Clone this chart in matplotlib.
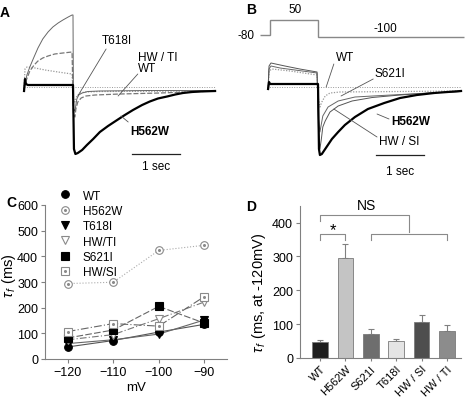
import numpy as np
import matplotlib
matplotlib.use('agg')
from matplotlib import pyplot as plt
from matplotlib.lines import Line2D

plt.rcParams['font.family'] = ['Liberation Sans', 'DejaVu Sans']
plt.rcParams['mathtext.fontset'] = 'custom'
plt.rcParams['mathtext.rm'] = 'Liberation Sans'
plt.rcParams['mathtext.it'] = 'Liberation Sans:italic'

# ---- panel A: tail currents (time in s, current in a.u., 0 = baseline)
a_t618i_t = [-1.02, -1.0, -0.96, -0.90, -0.83, -0.73, -0.63, -0.52, -0.42, -0.31, -0.21, -0.10, -0.02, 0.0,
             0.01, 0.04, 0.06, 0.08, 0.12, 0.19, 0.31, 0.56, 1.6, 2.96]
a_t618i_i = [-2, 3, 12, 20, 28, 39, 48, 55, 60, 64, 67, 70, 72, 72,
             -22, -24, -18, -12, -8, -6, -4.5, -4, -3.5, -3.5]
a_hwti_t = [-1.02, -0.98, -0.90, -0.81, -0.73, -0.63, -0.52, -0.38, -0.21, -0.02,
            0.01, 0.04, 0.06, 0.10, 0.17, 0.27, 0.46, 0.98, 1.81, 2.96]
a_hwti_i = [-2, 6, 16, 22, 26, 29, 31, 33, 34, 35,
            -27, -30, -22, -15, -11, -9, -8, -7, -6, -4]
a_wt_t = [-1.02, -1.0, -0.96, -0.79, -0.58, -0.38, -0.17, -0.02,
          0.01, 0.04, 0.08, 0.15, 0.25, 0.56, 2.96]
a_wt_i = [-2, 18, 20, 19, 17, 15.5, 14, 13,
          -12, -15, -9, -6, -5, -4.5, -4]
a_h562w_t = [-1.02, -1.0, -0.98, -0.94, -0.02, 0.0, 0.02, 0.05, 0.10, 0.19, 0.29, 0.42, 0.56, 0.73,
             0.92, 1.08, 1.25, 1.44, 1.60, 1.77, 1.96, 2.13, 2.29, 2.48, 2.65, 2.96]
a_h562w_i = [-4, 8, 3, 2, 2, 2, -62, -67, -66, -63, -58, -52, -45, -39,
             -33, -28, -23, -18, -14.5, -11.5, -9.5, -7.5, -6, -5, -4.5, -4]

# ---- panel B
b_h562w_t = [-1.04, -1.02, -1.0, 0.0, 0.02, 0.04, 0.08, 0.15, 0.29, 0.42, 0.56, 0.77, 1.04,
             1.38, 1.71, 2.06, 2.42, 2.98]
b_h562w_i = [-2, 5, 3, 3, -62, -68, -67, -62, -52, -45, -38, -30, -22,
             -16, -11, -8, -6, -4]
b_s621i_t = [-1.04, -1.02, -0.98, -0.79, -0.48, -0.17, -0.02, 0.01, 0.04, 0.07, 0.10, 0.21,
             0.42, 0.77, 1.33, 2.13, 2.98]
b_s621i_i = [-2, 18, 21, 19, 17, 15, 14, -32, -45, -37, -29, -20,
             -14, -10, -8.5, -6.5, -4.5]
b_hwsi_t = [-1.04, -1.02, -0.98, -0.69, -0.38, -0.02, 0.01, 0.04, 0.07, 0.10, 0.15, 0.25,
            0.42, 0.71, 1.13, 1.71, 2.33, 2.98]
b_hwsi_i = [-2, 21, 24, 21, 18, 15, -42, -62, -52, -40, -34, -25,
            -19, -14, -10.5, -8, -6, -4.5]
b_wt_t = [-1.04, -1.02, -0.96, -0.58, -0.02, 0.01, 0.04, 0.08, 0.15, 0.25, 0.46, 2.98]
b_wt_i = [-2, 16, 18, 16, 12, -12, -20, -15, -9, -6, -5, -4]

step_edges = [-1.2, -1.0, 0.0, 3.05]
step_mV = [-80, 50, -100]

# ---- panel C: tau_f vs voltage
volts = [-120, -110, -100, -90]
tau_wt = [47, 72, 105, 135]
tau_h562w = [294, 299, 423, 443]
tau_t618i = [60, 75, 97, 152]
tau_hwti = [75, 95, 157, 222]
tau_s621i = [82, 113, 205, 140]
tau_hwsi = [107, 138, 128, 243]

# ---- panel D: tau_f at -120 mV
groups = ['WT', 'H562W', 'S621I', 'T618I', 'HW / SI', 'HW / TI']
tau120 = [47, 295, 71, 50, 107, 80]
tau120_err = [5, 43, 16, 5, 19, 17]
bar_colors = ['#1e1e1e', '#c4c4c4', '#6e6e6e', '#e4e4e4', '#4e4e4e', '#8c8c8c']

W, H = 468, 406
fig = plt.figure(figsize=(W / 100, H / 100), dpi=100)

GRAY = '#808080'
FS = 8.5


def trace_axes(left_px, t0_px):
    ax = fig.add_axes([left_px / W, (H - 180) / H, 234 / W, 180 / H])
    ax.set_xlim((left_px - t0_px) / 48, (left_px + 234 - t0_px) / 48)
    ax.set_ylim(-92, 88)
    ax.axis('off')
    return ax


def leader(ax, xy, xytext):
    ax.annotate('', xy=xy, xytext=xytext,
                arrowprops=dict(arrowstyle='-', color='#555555', lw=0.6, shrinkA=0, shrinkB=0))


# panel A
axA = trace_axes(0, 73)
axA.plot([-1.02, 2.96], [0, 0], ls=(0, (1, 1.5)), color='#999999', lw=0.7)
axA.plot(a_wt_t, a_wt_i, ls=(0, (1, 1.2)), color='#999999', lw=0.9)
axA.plot(a_hwti_t, a_hwti_i, ls=(0, (4, 1.5)), color='#777777', lw=0.9)
axA.plot(a_t618i_t, a_t618i_i, color='#666666', lw=0.7)
axA.plot(a_h562w_t, a_h562w_i, color='black', lw=1.6)
axA.plot([1.23, 2.23], [-67, -67], color='#222222', lw=0.9)
axA.text(1.73, -79, '1 sec', fontsize=FS, ha='center', va='center')
leader(axA, (0.10, -9), (0.69, 38))
axA.text(0.6, 47, 'T618I', fontsize=FS, va='center')
axA.text(1.35, 30, 'HW / TI', fontsize=FS, va='center')
leader(axA, (0.94, -9), (1.35, 13))
axA.text(1.35, 19, 'WT', fontsize=FS, va='center')
leader(axA, (1.0, -29), (1.15, -35))
axA.text(1.19, -44, 'H562W', fontsize=FS, va='center', fontweight='bold')
fig.text(5 / W, 1 - 13 / H, 'A', fontsize=10, fontweight='bold', ha='center', va='center')

# panel B
axB = trace_axes(234, 318)
axB.plot([-1.06, 2.98], [0, 0], ls=(0, (1, 1.5)), color='#999999', lw=0.7)
axB.plot(b_wt_t, b_wt_i, ls=(0, (1, 1.2)), color='#999999', lw=0.9)
axB.plot(b_s621i_t, b_s621i_i, color='#666666', lw=0.7)
axB.plot(b_hwsi_t, b_hwsi_i, color='#555555', lw=0.7)
axB.plot(b_h562w_t, b_h562w_i, color='black', lw=1.6)
axB.plot([1.21, 2.21], [-68, -68], color='#222222', lw=0.9)
axB.text(1.71, -84, '1 sec', fontsize=FS, ha='center', va='center')
for txt, xy, xyt, lx, ly, bold in [
        ('WT', (0.17, 0), (0.33, 23), 0.375, 30, False),
        ('S621I', (0.48, -9), (1.15, 8), 1.17, 14, False),
        ('H562W', (1.23, -27), (1.48, -32), 1.52, -34, True),
        ('HW / SI', (0.33, -22), (1.23, -50), 1.27, -54, False)]:
    leader(axB, xy, xyt)
    axB.text(lx, ly, txt, fontsize=FS, va='center', fontweight='bold' if bold else 'normal')

axP = axB.twinx()
axP.set_ylim(-1328, 232)
axP.axis('off')
axP.stairs(step_mV, step_edges, baseline=None, color='#888888', lw=1.0)
axP.text(-1.33, -80, '-80', fontsize=FS, ha='right', va='center')
axP.text(-0.48, 145, '50', fontsize=FS, ha='center', va='center')
axP.text(1.40, -19, '-100', fontsize=FS, ha='center', va='center')
fig.text(251 / W, 1 - 10 / H, 'B', fontsize=10, fontweight='bold', ha='center', va='center')


def style_axes(ax):
    for side in ('top', 'right'):
        ax.spines[side].set_visible(False)
    for side in ('left', 'bottom'):
        ax.spines[side].set_color(GRAY)
        ax.spines[side].set_linewidth(0.8)
    ax.tick_params(direction='out', length=3, width=0.8, color=GRAY, labelsize=9, pad=2)


# panel C
axC = fig.add_axes([45 / W, 46 / H, 182 / W, 154 / H])
style_axes(axC)
series = [
    ('WT', tau_wt, dict(marker='o', mfc='black', mec='black'), '-', '#555555'),
    ('H562W', tau_h562w, dict(marker='o', mfc='white', mec='#8a8a8a'), ':', '#aaaaaa'),
    ('T618I', tau_t618i, dict(marker='v', mfc='black', mec='black'), '-', '#666666'),
    ('HW/TI', tau_hwti, dict(marker='v', mfc='white', mec='#8a8a8a'), (0, (6, 2, 1, 2)), '#777777'),
    ('S621I', tau_s621i, dict(marker='s', mfc='black', mec='black'), (0, (6, 2)), '#666666'),
    ('HW/SI', tau_hwsi, dict(marker='s', mfc='white', mec='#8a8a8a'), (0, (7, 2, 1, 2)), '#666666'),
]
handles = []
for name, vals, mk, ls, lc in series:
    axC.plot(volts, vals, ls=ls, color=lc, lw=0.8, zorder=2)
    axC.plot(volts, vals, ls='none', ms=5.5, mew=0.8, zorder=3, **mk)
    h = Line2D([], [], ls='none', ms=5.5, mew=0.8, **mk)
    if mk['mfc'] == 'white' and mk['marker'] != 'v':
        axC.plot(volts, vals, ls='none', marker='o', ms=1.2, color='#8a8a8a', zorder=4)
        h = (h, Line2D([], [], ls='none', marker='o', ms=1.2, color='#8a8a8a'))
    handles.append(h)
axC.legend(handles, [s[0] for s in series], loc='upper left', bbox_to_anchor=(0.077, 1.10),
           frameon=False, fontsize=8.5, handlelength=1.0, handletextpad=1.0,
           labelspacing=0.28, borderpad=0, borderaxespad=0)
axC.set_xlim(-125, -85)
axC.set_ylim(0, 600)
axC.set_xticks(volts)
axC.set_yticks(np.arange(0, 601, 100))
axC.set_xlabel('mV', fontsize=9.5, labelpad=2)
axC.set_ylabel(r'$\tau_{\,f}$ (ms)', fontsize=10.5)
axC.yaxis.set_label_coords(-0.15, 0.55)
fig.text(11 / W, 1 - 203 / H, 'C', fontsize=10, fontweight='bold', ha='center', va='center')

# panel D
axD = fig.add_axes([300 / W, 47 / H, 161 / W, 152.3 / H])
style_axes(axD)
x = np.arange(len(groups))
axD.bar(x, tau120, width=0.61, color=bar_colors, edgecolor='#7a7a7a', linewidth=0.6, zorder=2)
axD.errorbar(x, tau120, yerr=[np.zeros(len(x)), tau120_err], fmt='none',
             ecolor=GRAY, elinewidth=0.8, capsize=2, capthick=0.8, zorder=1)
axD.set_xlim(-0.79, 5.55)
axD.set_ylim(0, 450)
axD.set_yticks(np.arange(0, 401, 100))
axD.set_xticks(x)
axD.set_xticklabels(groups, rotation=45, ha='right', rotation_mode='anchor', fontsize=8)
axD.tick_params(axis='x', length=2)
axD.set_ylabel(r'$\tau_{\,f}$ (ms, at -120mV)', fontsize=10.5)
axD.yaxis.set_label_coords(-0.2, 0.433)

bc = '#8a8a8a'
kw = dict(color=bc, lw=0.8, clip_on=False)
axD.plot([0, 0, 3.5, 3.5], [404, 423, 423, 372], **kw)
axD.plot([0, 0, 1, 1], [350, 366, 366, 350], **kw)
axD.plot([2, 2, 5, 5], [348, 366, 366, 348], **kw)
axD.text(0.5, 380, '*', fontsize=12, ha='center', va='center')
axD.text(1.84, 453, 'NS', fontsize=10, ha='center', va='center')
fig.text(251 / W, 1 - 207 / H, 'D', fontsize=10, fontweight='bold', ha='center', va='center')

fig.savefig('out.png', dpi=100)
